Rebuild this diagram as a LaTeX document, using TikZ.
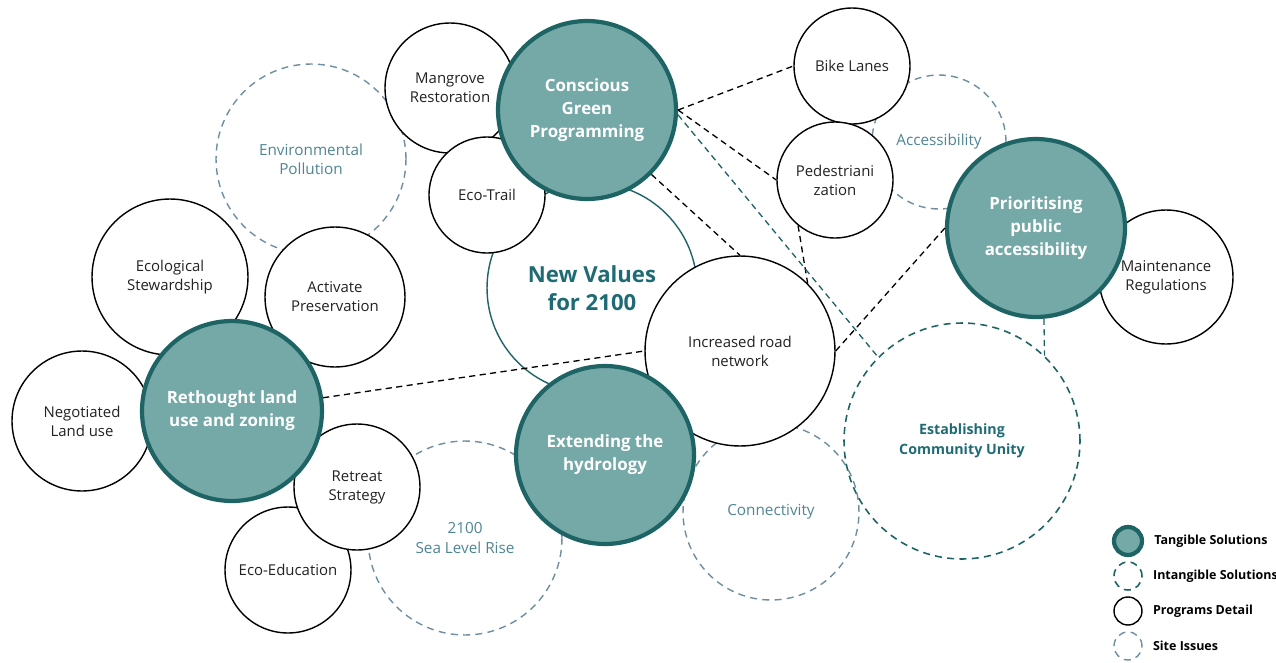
\documentclass[tikz,border=0pt]{standalone}
\usepackage{fontspec}
\setmainfont{Open Sans}
\usetikzlibrary{positioning}
\definecolor{gTeal}{HTML}{74A9A8}
\definecolor{gDark}{HTML}{1E6464}
\definecolor{gValue}{HTML}{1F6B74}
\definecolor{gSlate}{HTML}{6F8FA0}
\definecolor{gSlateText}{HTML}{4F8592}
\definecolor{gInk}{HTML}{222222}

\begin{document}
\begin{tikzpicture}[x=0.02cm, y=-0.02cm,
  tangible/.style={circle, draw=gDark, fill=gTeal, line width=2.4pt, minimum size=#1, inner sep=0pt,
                   align=center, text=white, font=\bfseries\fontsize{9.6}{13.2}\selectfont},
  intangible/.style={circle, draw=gDark, dash pattern=on 4pt off 3pt, line width=0.9pt, minimum size=#1,
                     inner sep=0pt, align=center, text=gValue, font=\bfseries\fontsize{8.1}{11.3}\selectfont},
  program/.style={circle, draw=black, fill=white, line width=0.8pt, minimum size=#1, inner sep=0pt,
                  align=center, text=gInk, font=\fontsize{8.5}{10.8}\selectfont},
  issue/.style={circle, draw=gSlate, dash pattern=on 4pt off 3pt, line width=0.8pt, minimum size=#1,
                inner sep=0pt, align=center, text=gSlateText, font=\fontsize{8.7}{11}\selectfont},
  link/.style={draw=#1, dash pattern=on 3.5pt off 2.5pt, line width=0.75pt},
  link/.default=black,
  keytext/.style={font=\bfseries\fontsize{7.1}{9}\selectfont, text=black, inner sep=0pt}]
  \useasboundingbox (0,0) rectangle (1276,663);
  % site issues and intangible solutions (at the back)
  \node[issue=3.8cm] (pollution) at (311,159) {Environmental\\ Pollution};
  \node[issue=3.88cm] (sealevel) at (465,538) {2100\\ Sea Level Rise};
  \node[issue=3.52cm] (connect) at (771,512) {Connectivity};
  \node[issue=2.68cm] (access) at (939,142) {Accessibility};
  \node[intangible=4.72cm] (unity) at (962,441) {Establishing\\ Community Unity};
  % core value
  \node[circle, draw=gDark, line width=0.8pt, minimum size=4.2cm, align=center, text=gValue,
        font=\bfseries\fontsize{12.6}{16}\selectfont] (values) at (592,288) {New Values\\ for 2100};
  % programs detail
  \node[program=2.6cm] (mangrove) at (450,88) {Mangrove\\ Restoration};
  \node[program=2.32cm] (ecotrail) at (487,195) {Eco-Trail};
  \node[program=3.12cm] (steward) at (170,277) {Ecological\\ Stewardship};
  \node[program=2.8cm] (preserve) at (335,297) {Activate\\ Preservation};
  \node[program=2.8cm] (negotiated) at (82,421) {Negotiated\\ Land use};
  \node[program=2.52cm] (ecoedu) at (288,570) {Eco-Education};
  \node[program=2.52cm] (retreat) at (357,487) {Retreat\\ Strategy};
  \node[program=3.8cm] (road) at (740,351) {Increased road\\ network};
  \node[program=2.32cm] (bike) at (852,66) {Bike Lanes};
  \node[program=2.32cm] (ped) at (835,180) {Pedestriani\\ zation};
  \node[program=2.68cm] (maintain) at (1166,277) {Maintenance\\ Regulations};
  % tangible solutions
  \node[tangible=3.56cm] (green) at (587,110) {Conscious\\ Green\\ Programming};
  \node[tangible=3.6cm] (landuse) at (232,411) {Rethought land\\ use and zoning};
  \node[tangible=3.56cm] (hydro) at (605,455) {Extending the\\ hydrology};
  \node[tangible=3.56cm] (prio) at (1036,228) {Prioritising\\ public\\ accessibility};
  % links
  \draw[link] (green.east) -- (bike.west);
  \draw[link] (green.east) -- (ped.west);
  \draw[link] (green.-45) -- (road.north);
  \draw[link] (ped.-129) -- (road.45);
  \draw[link] (landuse) -- (road.west);
  \draw[link] (prio.west) -- (road.east);
  \draw[link=gDark] (green.-3) -- (unity.135);
  \draw[link=gDark] (prio.-85) -- (unity.46);
  % legend
  \foreach \st/\lab [count=\i] in {tangible/Tangible Solutions, intangible/Intangible Solutions,
                                   program/Programs Detail, issue/Site Issues}
  {
    \node[\st=0.56cm] (key\i) at (1128,506+35*\i) {};
    \node[keytext, right=0.2cm of key\i] (keylab\i) {\lab};
  }
\end{tikzpicture}
\end{document}
